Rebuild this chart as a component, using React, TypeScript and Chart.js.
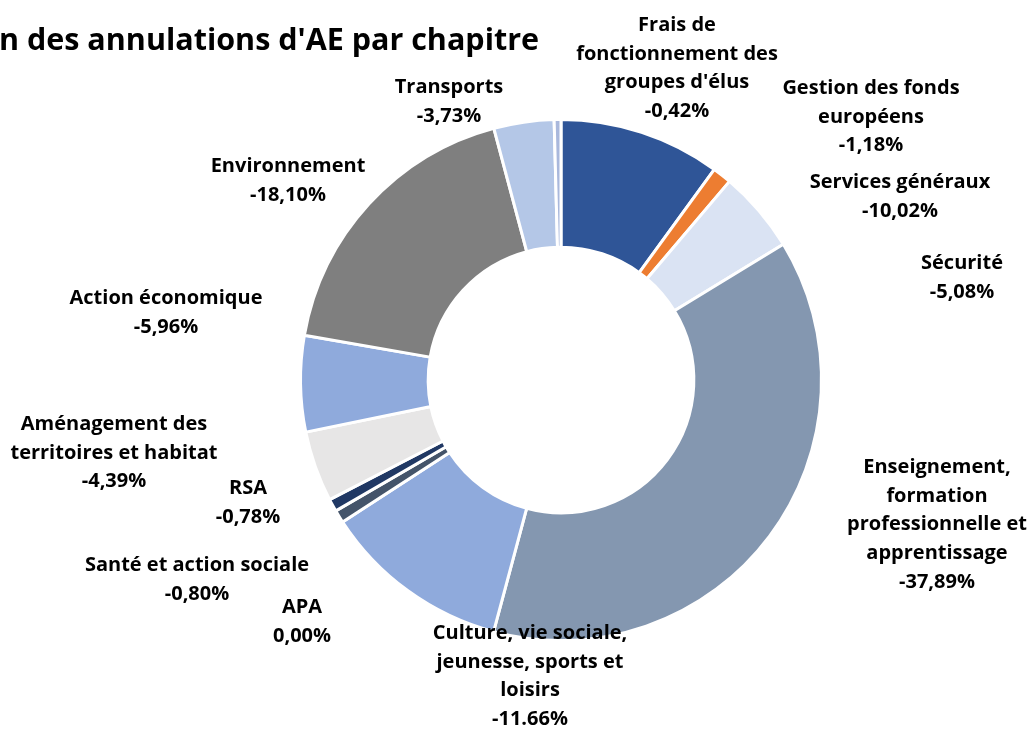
import React, { useEffect, useRef } from "react";
import { Chart, registerables } from "chart.js";

Chart.register(...registerables);

const categories: string[] = [
  "Services généraux",
  "Gestion des fonds européens",
  "Sécurité",
  "Enseignement, formation professionnelle et apprentissage",
  "Culture, vie sociale, jeunesse, sports et loisirs",
  "APA",
  "Santé et action sociale",
  "RSA",
  "Aménagement des territoires et habitat",
  "Action économique",
  "Environnement",
  "Transports",
  "Frais de fonctionnement des groupes d'élus",
];

const shares: number[] = [10.02, 1.18, 5.08, 37.89, 11.66, 0.0, 0.8, 0.78, 4.39, 5.96, 18.1, 3.73, 0.42];

const sliceColors: string[] = [
  "#2F5597",
  "#ED7D31",
  "#DAE3F3",
  "#8497B0",
  "#8FAADC",
  "#A5A5A5",
  "#44546A",
  "#203864",
  "#E7E6E6",
  "#8FAADC",
  "#7F7F7F",
  "#B4C7E7",
  "#A9B8DC",
];

// Label text lines as shown on the chart (Excel placed labels)
const labelLines: string[][] = [
  ["Services généraux", "-10,02%"],
  ["Gestion des fonds", "européens", "-1,18%"],
  ["Sécurité", "-5,08%"],
  ["Enseignement,", "formation", "professionnelle et", "apprentissage", "-37,89%"],
  ["Culture, vie sociale,", "jeunesse, sports et", "loisirs", "-11.66%"],
  ["APA", "0,00%"],
  ["Santé et action sociale", "-0,80%"],
  ["RSA", "-0,78%"],
  ["Aménagement des", "territoires et habitat", "-4,39%"],
  ["Action économique", "-5,96%"],
  ["Environnement", "-18,10%"],
  ["Transports", "-3,73%"],
  ["Frais de", "fonctionnement des", "groupes d'élus", "-0,42%"],
];

const titleText = "n des annulations d'AE par chapitre";

// Layout: centre x and first-line centre y of each label block
const labelAnchors: [number, number][] = [
  [900, 182],
  [871, 88],
  [962, 263],
  [937, 467],
  [530, 633],
  [302, 607],
  [197, 565],
  [248, 488],
  [114, 424],
  [166, 298],
  [288, 166],
  [449, 87],
  [677, 25],
];

const LINE_H = 28.8;
const FONT = "bold 20px 'Open Sans', Lato, sans-serif";

const labelPlugin = {
  id: "customLabels",
  afterDraw(chart: any) {
    const ctx = chart.ctx as CanvasRenderingContext2D;
    ctx.save();
    ctx.fillStyle = "#000000";
    ctx.textBaseline = "middle";
    ctx.textAlign = "center";
    ctx.font = FONT;
    labelLines.forEach((lines, i) => {
      const [x, y] = labelAnchors[i];
      lines.forEach((t, j) => ctx.fillText(t, x, y + j * LINE_H));
    });
    ctx.textAlign = "left";
    ctx.textBaseline = "alphabetic";
    ctx.font = "bold 30.5px 'Open Sans', Lato, sans-serif";
    ctx.fillText(titleText, -1, 50);
    ctx.restore();
  },
};

export default function App() {
  const ref = useRef<HTMLCanvasElement | null>(null);
  useEffect(() => {
    document.body.style.margin = "0";
    const canvas = ref.current!;
    const chart = new Chart(canvas, {
      type: "doughnut",
      data: {
        labels: categories,
        datasets: [
          {
            data: shares,
            backgroundColor: sliceColors,
            borderColor: "#FFFFFF",
            borderWidth: 3,
          },
        ],
      },
      options: {
        responsive: false,
        animation: false,
        cutout: "51%",
        layout: { padding: { left: 299, right: 209, top: 118, bottom: 87 } },
        plugins: {
          legend: { display: false },
          tooltip: { enabled: false },
          title: { display: false },
        },
      },
      plugins: [labelPlugin],
    });
    return () => chart.destroy();
  }, []);
  return (
    <div style={{ width: 1032, height: 729, background: "#FFFFFF" }}>
      <canvas ref={ref} width={1032} height={729} style={{ width: 1032, height: 729, display: "block" }} />
    </div>
  );
}
